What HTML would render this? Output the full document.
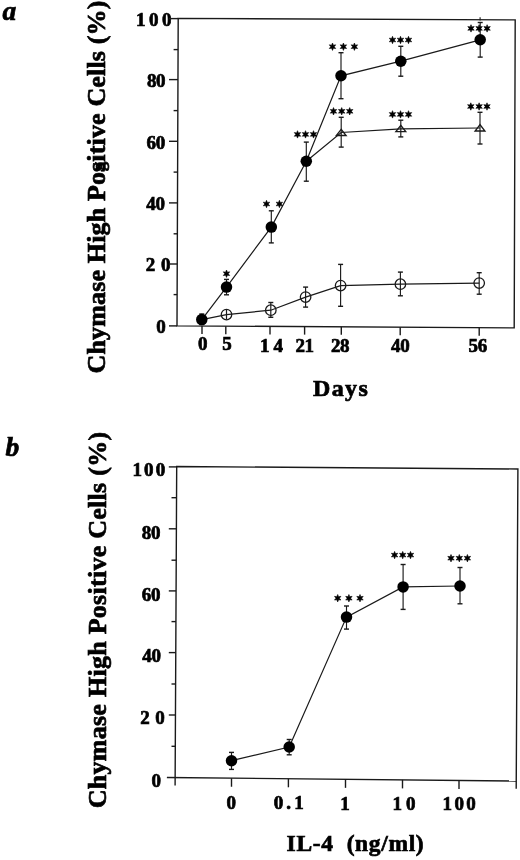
<!DOCTYPE html>
<html><head><meta charset="utf-8"><style>
html,body{margin:0;padding:0;background:#fff;overflow:hidden;width:520px;height:860px;}
svg{display:block;filter:grayscale(100%) blur(0.3px);}
text{font-family:"Liberation Serif",serif;font-weight:bold;fill:#000;stroke:#000;stroke-width:0.7px;}
</style></head><body>
<svg width="520" height="860" viewBox="0 0 520 860">
<rect width="520" height="860" fill="#fff"/>
<text x="135.90" y="25.50" font-size="19" letter-spacing="-0.58" >1 0 0</text>
<text x="146.90" y="86.50" font-size="19" letter-spacing="-0.30" >80</text>
<text x="146.60" y="149.00" font-size="19" letter-spacing="-0.30" >60</text>
<text x="146.30" y="210.00" font-size="19" letter-spacing="-0.30" >40</text>
<text x="145.70" y="271.00" font-size="19" letter-spacing="0.54" >2 0</text>
<text x="156.20" y="332.80" font-size="19" letter-spacing="0.00" >0</text>
<text x="198.10" y="350.40" font-size="19" letter-spacing="0.00" >0</text>
<text x="222.30" y="350.40" font-size="19" letter-spacing="0.00" >5</text>
<text x="259.90" y="351.50" font-size="19" letter-spacing="-0.27" >1 4</text>
<text x="295.40" y="351.50" font-size="19" letter-spacing="-0.30" >21</text>
<text x="330.90" y="351.50" font-size="19" letter-spacing="-0.30" >28</text>
<text x="391.00" y="351.50" font-size="19" letter-spacing="-0.30" >40</text>
<text x="468.50" y="351.50" font-size="19" letter-spacing="-0.30" >56</text>
<text x="312.90" y="395.80" font-size="24" letter-spacing="1.42" >Days</text>
<text x="2.40" y="20.00" font-size="27.5" letter-spacing="0.00" font-style="italic">a</text>
<text x="132.40" y="476.00" font-size="19" letter-spacing="-1.26" >1 0 0</text>
<text x="141.70" y="538.50" font-size="19" letter-spacing="-0.30" >80</text>
<text x="141.70" y="601.30" font-size="19" letter-spacing="-0.30" >60</text>
<text x="142.20" y="662.30" font-size="19" letter-spacing="-0.30" >40</text>
<text x="140.30" y="724.20" font-size="19" letter-spacing="0.36" >2 0</text>
<text x="151.40" y="787.40" font-size="19" letter-spacing="0.00" >0</text>
<text x="226.40" y="809.00" font-size="19" letter-spacing="0.00" >0</text>
<text x="273.80" y="808.60" font-size="19" letter-spacing="3.06" >0.1</text>
<text x="340.20" y="809.50" font-size="19" letter-spacing="0.00" >1</text>
<text x="392.40" y="809.50" font-size="19" letter-spacing="-0.27" >1 0</text>
<text x="442.60" y="809.50" font-size="19" letter-spacing="-1.21" >1 0 0</text>
<text x="286.60" y="851.40" font-size="23.5" letter-spacing="0.65" >IL-4&#160;&#160;(ng/ml)</text>
<text x="5.50" y="456.30" font-size="27.5" letter-spacing="0.00" font-style="italic">b</text>
<text transform="translate(105,373.5) rotate(-90)" font-size="26" letter-spacing="0.15">Chymase High Positive Cells (%)</text>
<text transform="translate(106,808.3) rotate(-90)" font-size="26" letter-spacing="0.27">Chymase High Positive Cells (%)</text>
<text transform="translate(105,373.5) rotate(-90)" font-size="26" letter-spacing="0.15"><tspan fill-opacity="0" stroke-opacity="0">Chymase High Po</tspan><tspan dx="0.6" font-size="19">g</tspan></text>
<polygon points="178.20,18.40 515.20,19.90 514.20,327.90 177.00,325.85" fill="none" stroke="#1a1a1a" stroke-width="1.4" stroke-linejoin="miter"/>
<line x1="169.00" y1="18.60" x2="178.20" y2="18.60" stroke="#1a1a1a" stroke-width="1.4" stroke-linecap="butt"/>
<line x1="169.00" y1="79.60" x2="177.96" y2="79.60" stroke="#1a1a1a" stroke-width="1.4" stroke-linecap="butt"/>
<line x1="169.00" y1="141.30" x2="177.72" y2="141.30" stroke="#1a1a1a" stroke-width="1.4" stroke-linecap="butt"/>
<line x1="169.00" y1="202.90" x2="177.48" y2="202.90" stroke="#1a1a1a" stroke-width="1.4" stroke-linecap="butt"/>
<line x1="169.00" y1="264.00" x2="177.24" y2="264.00" stroke="#1a1a1a" stroke-width="1.4" stroke-linecap="butt"/>
<line x1="169.00" y1="325.90" x2="177.00" y2="325.90" stroke="#1a1a1a" stroke-width="1.4" stroke-linecap="butt"/>
<line x1="173.60" y1="49.60" x2="178.08" y2="49.60" stroke="#1a1a1a" stroke-width="1.4" stroke-linecap="butt"/>
<line x1="173.60" y1="110.60" x2="177.84" y2="110.60" stroke="#1a1a1a" stroke-width="1.4" stroke-linecap="butt"/>
<line x1="173.60" y1="172.10" x2="177.60" y2="172.10" stroke="#1a1a1a" stroke-width="1.4" stroke-linecap="butt"/>
<line x1="173.60" y1="233.80" x2="177.36" y2="233.80" stroke="#1a1a1a" stroke-width="1.4" stroke-linecap="butt"/>
<line x1="173.60" y1="294.60" x2="177.12" y2="294.60" stroke="#1a1a1a" stroke-width="1.4" stroke-linecap="butt"/>
<line x1="202.00" y1="326.00" x2="202.00" y2="334.00" stroke="#1a1a1a" stroke-width="1.4" stroke-linecap="butt"/>
<line x1="225.80" y1="326.15" x2="225.80" y2="334.15" stroke="#1a1a1a" stroke-width="1.4" stroke-linecap="butt"/>
<line x1="270.00" y1="326.42" x2="270.00" y2="334.42" stroke="#1a1a1a" stroke-width="1.4" stroke-linecap="butt"/>
<line x1="304.60" y1="326.63" x2="304.60" y2="334.63" stroke="#1a1a1a" stroke-width="1.4" stroke-linecap="butt"/>
<line x1="341.30" y1="326.85" x2="341.30" y2="334.85" stroke="#1a1a1a" stroke-width="1.4" stroke-linecap="butt"/>
<line x1="400.20" y1="327.21" x2="400.20" y2="335.21" stroke="#1a1a1a" stroke-width="1.4" stroke-linecap="butt"/>
<line x1="479.20" y1="327.69" x2="479.20" y2="335.69" stroke="#1a1a1a" stroke-width="1.4" stroke-linecap="butt"/>
<polyline points="201.80,319.60 226.50,314.60 270.80,310.20 305.60,297.10 340.60,285.60 400.40,284.20 479.20,283.10" fill="none" stroke="#1a1a1a" stroke-width="1.2" stroke-linejoin="miter"/>
<line x1="201.80" y1="314.60" x2="201.80" y2="324.60" stroke="#1a1a1a" stroke-width="1.2" stroke-linecap="butt"/>
<line x1="226.50" y1="309.60" x2="226.50" y2="319.60" stroke="#1a1a1a" stroke-width="1.2" stroke-linecap="butt"/>
<line x1="270.80" y1="302.50" x2="270.80" y2="317.30" stroke="#1a1a1a" stroke-width="1.15" stroke-linecap="butt"/>
<line x1="268.30" y1="302.50" x2="273.30" y2="302.50" stroke="#1a1a1a" stroke-width="1.4" stroke-linecap="butt"/>
<line x1="268.30" y1="317.30" x2="273.30" y2="317.30" stroke="#1a1a1a" stroke-width="1.4" stroke-linecap="butt"/>
<line x1="305.60" y1="287.10" x2="305.60" y2="307.10" stroke="#1a1a1a" stroke-width="1.15" stroke-linecap="butt"/>
<line x1="303.10" y1="287.10" x2="308.10" y2="287.10" stroke="#1a1a1a" stroke-width="1.4" stroke-linecap="butt"/>
<line x1="303.10" y1="307.10" x2="308.10" y2="307.10" stroke="#1a1a1a" stroke-width="1.4" stroke-linecap="butt"/>
<line x1="340.60" y1="264.40" x2="340.60" y2="306.30" stroke="#1a1a1a" stroke-width="1.15" stroke-linecap="butt"/>
<line x1="338.10" y1="264.40" x2="343.10" y2="264.40" stroke="#1a1a1a" stroke-width="1.4" stroke-linecap="butt"/>
<line x1="338.10" y1="306.30" x2="343.10" y2="306.30" stroke="#1a1a1a" stroke-width="1.4" stroke-linecap="butt"/>
<line x1="400.40" y1="272.10" x2="400.40" y2="295.80" stroke="#1a1a1a" stroke-width="1.15" stroke-linecap="butt"/>
<line x1="397.90" y1="272.10" x2="402.90" y2="272.10" stroke="#1a1a1a" stroke-width="1.4" stroke-linecap="butt"/>
<line x1="397.90" y1="295.80" x2="402.90" y2="295.80" stroke="#1a1a1a" stroke-width="1.4" stroke-linecap="butt"/>
<line x1="479.20" y1="272.70" x2="479.20" y2="294.20" stroke="#1a1a1a" stroke-width="1.15" stroke-linecap="butt"/>
<line x1="476.70" y1="272.70" x2="481.70" y2="272.70" stroke="#1a1a1a" stroke-width="1.4" stroke-linecap="butt"/>
<line x1="476.70" y1="294.20" x2="481.70" y2="294.20" stroke="#1a1a1a" stroke-width="1.4" stroke-linecap="butt"/>
<circle cx="226.50" cy="314.60" r="5.25" fill="none" stroke="#1a1a1a" stroke-width="1.3"/>
<circle cx="270.80" cy="310.20" r="5.25" fill="none" stroke="#1a1a1a" stroke-width="1.3"/>
<circle cx="305.60" cy="297.10" r="5.25" fill="none" stroke="#1a1a1a" stroke-width="1.3"/>
<circle cx="340.60" cy="285.60" r="5.25" fill="none" stroke="#1a1a1a" stroke-width="1.3"/>
<circle cx="400.40" cy="284.20" r="5.25" fill="none" stroke="#1a1a1a" stroke-width="1.3"/>
<circle cx="479.20" cy="283.10" r="5.25" fill="none" stroke="#1a1a1a" stroke-width="1.3"/>
<polyline points="306.30,161.30 341.20,132.50 400.80,128.80 480.00,128.00" fill="none" stroke="#1a1a1a" stroke-width="1.2" stroke-linejoin="miter"/>
<line x1="341.20" y1="117.30" x2="341.20" y2="147.10" stroke="#1a1a1a" stroke-width="1.15" stroke-linecap="butt"/>
<line x1="338.70" y1="117.30" x2="343.70" y2="117.30" stroke="#1a1a1a" stroke-width="1.4" stroke-linecap="butt"/>
<line x1="338.70" y1="147.10" x2="343.70" y2="147.10" stroke="#1a1a1a" stroke-width="1.4" stroke-linecap="butt"/>
<polygon points="341.20,129.40 336.30,135.50 346.10,135.50" fill="none" stroke="#1a1a1a" stroke-width="1.35" stroke-linejoin="miter"/>
<line x1="400.80" y1="120.20" x2="400.80" y2="136.90" stroke="#1a1a1a" stroke-width="1.15" stroke-linecap="butt"/>
<line x1="398.30" y1="120.20" x2="403.30" y2="120.20" stroke="#1a1a1a" stroke-width="1.4" stroke-linecap="butt"/>
<line x1="398.30" y1="136.90" x2="403.30" y2="136.90" stroke="#1a1a1a" stroke-width="1.4" stroke-linecap="butt"/>
<polygon points="400.80,125.40 395.90,131.60 405.70,131.60" fill="none" stroke="#1a1a1a" stroke-width="1.35" stroke-linejoin="miter"/>
<line x1="480.00" y1="112.30" x2="480.00" y2="144.00" stroke="#1a1a1a" stroke-width="1.15" stroke-linecap="butt"/>
<line x1="477.50" y1="112.30" x2="482.50" y2="112.30" stroke="#1a1a1a" stroke-width="1.4" stroke-linecap="butt"/>
<line x1="477.50" y1="144.00" x2="482.50" y2="144.00" stroke="#1a1a1a" stroke-width="1.4" stroke-linecap="butt"/>
<polygon points="480.00,124.60 475.10,131.00 484.90,131.00" fill="none" stroke="#1a1a1a" stroke-width="1.35" stroke-linejoin="miter"/>
<polyline points="201.80,319.60 226.50,287.10 271.30,227.10 306.30,161.30 341.00,75.80 400.80,61.20 480.20,39.80" fill="none" stroke="#1a1a1a" stroke-width="1.2" stroke-linejoin="miter"/>
<line x1="201.80" y1="314.00" x2="201.80" y2="324.60" stroke="#1a1a1a" stroke-width="1.15" stroke-linecap="butt"/>
<line x1="199.30" y1="314.00" x2="204.30" y2="314.00" stroke="#1a1a1a" stroke-width="1.4" stroke-linecap="butt"/>
<line x1="199.30" y1="324.60" x2="204.30" y2="324.60" stroke="#1a1a1a" stroke-width="1.4" stroke-linecap="butt"/>
<circle cx="201.80" cy="319.60" r="5.75" fill="#000"/>
<line x1="226.50" y1="279.40" x2="226.50" y2="294.80" stroke="#1a1a1a" stroke-width="1.15" stroke-linecap="butt"/>
<line x1="224.00" y1="279.40" x2="229.00" y2="279.40" stroke="#1a1a1a" stroke-width="1.4" stroke-linecap="butt"/>
<line x1="224.00" y1="294.80" x2="229.00" y2="294.80" stroke="#1a1a1a" stroke-width="1.4" stroke-linecap="butt"/>
<circle cx="226.50" cy="287.10" r="5.75" fill="#000"/>
<line x1="271.30" y1="210.80" x2="271.30" y2="242.90" stroke="#1a1a1a" stroke-width="1.15" stroke-linecap="butt"/>
<line x1="268.80" y1="210.80" x2="273.80" y2="210.80" stroke="#1a1a1a" stroke-width="1.4" stroke-linecap="butt"/>
<line x1="268.80" y1="242.90" x2="273.80" y2="242.90" stroke="#1a1a1a" stroke-width="1.4" stroke-linecap="butt"/>
<circle cx="271.30" cy="227.10" r="5.75" fill="#000"/>
<line x1="306.30" y1="142.10" x2="306.30" y2="181.20" stroke="#1a1a1a" stroke-width="1.15" stroke-linecap="butt"/>
<line x1="303.80" y1="142.10" x2="308.80" y2="142.10" stroke="#1a1a1a" stroke-width="1.4" stroke-linecap="butt"/>
<line x1="303.80" y1="181.20" x2="308.80" y2="181.20" stroke="#1a1a1a" stroke-width="1.4" stroke-linecap="butt"/>
<circle cx="306.30" cy="161.30" r="5.75" fill="#000"/>
<line x1="341.00" y1="52.70" x2="341.00" y2="98.70" stroke="#1a1a1a" stroke-width="1.15" stroke-linecap="butt"/>
<line x1="338.50" y1="52.70" x2="343.50" y2="52.70" stroke="#1a1a1a" stroke-width="1.4" stroke-linecap="butt"/>
<line x1="338.50" y1="98.70" x2="343.50" y2="98.70" stroke="#1a1a1a" stroke-width="1.4" stroke-linecap="butt"/>
<circle cx="341.00" cy="75.80" r="5.75" fill="#000"/>
<line x1="400.80" y1="46.30" x2="400.80" y2="76.20" stroke="#1a1a1a" stroke-width="1.15" stroke-linecap="butt"/>
<line x1="398.30" y1="46.30" x2="403.30" y2="46.30" stroke="#1a1a1a" stroke-width="1.4" stroke-linecap="butt"/>
<line x1="398.30" y1="76.20" x2="403.30" y2="76.20" stroke="#1a1a1a" stroke-width="1.4" stroke-linecap="butt"/>
<circle cx="400.80" cy="61.20" r="5.75" fill="#000"/>
<line x1="480.20" y1="22.50" x2="480.20" y2="57.10" stroke="#1a1a1a" stroke-width="1.15" stroke-linecap="butt"/>
<line x1="477.70" y1="22.50" x2="482.70" y2="22.50" stroke="#1a1a1a" stroke-width="1.4" stroke-linecap="butt"/>
<line x1="477.70" y1="57.10" x2="482.70" y2="57.10" stroke="#1a1a1a" stroke-width="1.4" stroke-linecap="butt"/>
<circle cx="480.20" cy="39.80" r="5.75" fill="#000"/>
<line x1="480.10" y1="17.20" x2="480.10" y2="20.50" stroke="#1a1a1a" stroke-width="1.1" stroke-linecap="butt"/>
<polygon points="226.50,270.00 227.38,272.18 229.70,271.85 228.25,273.70 229.70,275.55 227.38,275.22 226.50,277.40 225.62,275.22 223.30,275.55 224.75,273.70 223.30,271.85 225.62,272.18" fill="#000" stroke="#000" stroke-width="0.6" stroke-linejoin="round"/>
<polygon points="266.50,200.30 267.38,202.48 269.70,202.15 268.25,204.00 269.70,205.85 267.38,205.52 266.50,207.70 265.62,205.52 263.30,205.85 264.75,204.00 263.30,202.15 265.62,202.48" fill="#000" stroke="#000" stroke-width="0.6" stroke-linejoin="round"/>
<polygon points="279.40,200.30 280.27,202.48 282.60,202.15 281.15,204.00 282.60,205.85 280.27,205.52 279.40,207.70 278.52,205.52 276.20,205.85 277.65,204.00 276.20,202.15 278.52,202.48" fill="#000" stroke="#000" stroke-width="0.6" stroke-linejoin="round"/>
<polygon points="297.50,130.70 298.38,132.88 300.70,132.55 299.25,134.40 300.70,136.25 298.38,135.92 297.50,138.10 296.62,135.92 294.30,136.25 295.75,134.40 294.30,132.55 296.62,132.88" fill="#000" stroke="#000" stroke-width="0.6" stroke-linejoin="round"/>
<polygon points="305.50,130.70 306.38,132.88 308.70,132.55 307.25,134.40 308.70,136.25 306.38,135.92 305.50,138.10 304.62,135.92 302.30,136.25 303.75,134.40 302.30,132.55 304.62,132.88" fill="#000" stroke="#000" stroke-width="0.6" stroke-linejoin="round"/>
<polygon points="313.50,130.70 314.38,132.88 316.70,132.55 315.25,134.40 316.70,136.25 314.38,135.92 313.50,138.10 312.62,135.92 310.30,136.25 311.75,134.40 310.30,132.55 312.62,132.88" fill="#000" stroke="#000" stroke-width="0.6" stroke-linejoin="round"/>
<polygon points="332.50,43.00 333.38,45.18 335.70,44.85 334.25,46.70 335.70,48.55 333.38,48.22 332.50,50.40 331.62,48.22 329.30,48.55 330.75,46.70 329.30,44.85 331.62,45.18" fill="#000" stroke="#000" stroke-width="0.6" stroke-linejoin="round"/>
<polygon points="343.40,43.00 344.27,45.18 346.60,44.85 345.15,46.70 346.60,48.55 344.27,48.22 343.40,50.40 342.52,48.22 340.20,48.55 341.65,46.70 340.20,44.85 342.52,45.18" fill="#000" stroke="#000" stroke-width="0.6" stroke-linejoin="round"/>
<polygon points="354.40,43.00 355.27,45.18 357.60,44.85 356.15,46.70 357.60,48.55 355.27,48.22 354.40,50.40 353.52,48.22 351.20,48.55 352.65,46.70 351.20,44.85 353.52,45.18" fill="#000" stroke="#000" stroke-width="0.6" stroke-linejoin="round"/>
<polygon points="392.50,36.30 393.38,38.48 395.70,38.15 394.25,40.00 395.70,41.85 393.38,41.52 392.50,43.70 391.62,41.52 389.30,41.85 390.75,40.00 389.30,38.15 391.62,38.48" fill="#000" stroke="#000" stroke-width="0.6" stroke-linejoin="round"/>
<polygon points="400.50,36.30 401.38,38.48 403.70,38.15 402.25,40.00 403.70,41.85 401.38,41.52 400.50,43.70 399.62,41.52 397.30,41.85 398.75,40.00 397.30,38.15 399.62,38.48" fill="#000" stroke="#000" stroke-width="0.6" stroke-linejoin="round"/>
<polygon points="408.50,36.30 409.38,38.48 411.70,38.15 410.25,40.00 411.70,41.85 409.38,41.52 408.50,43.70 407.62,41.52 405.30,41.85 406.75,40.00 405.30,38.15 407.62,38.48" fill="#000" stroke="#000" stroke-width="0.6" stroke-linejoin="round"/>
<polygon points="471.00,24.70 471.88,26.88 474.20,26.55 472.75,28.40 474.20,30.25 471.88,29.92 471.00,32.10 470.12,29.92 467.80,30.25 469.25,28.40 467.80,26.55 470.12,26.88" fill="#000" stroke="#000" stroke-width="0.6" stroke-linejoin="round"/>
<polygon points="479.10,24.70 479.98,26.88 482.30,26.55 480.85,28.40 482.30,30.25 479.98,29.92 479.10,32.10 478.23,29.92 475.90,30.25 477.35,28.40 475.90,26.55 478.23,26.88" fill="#000" stroke="#000" stroke-width="0.6" stroke-linejoin="round"/>
<polygon points="487.10,24.70 487.98,26.88 490.30,26.55 488.85,28.40 490.30,30.25 487.98,29.92 487.10,32.10 486.23,29.92 483.90,30.25 485.35,28.40 483.90,26.55 486.23,26.88" fill="#000" stroke="#000" stroke-width="0.6" stroke-linejoin="round"/>
<polygon points="333.50,107.60 334.38,109.78 336.70,109.45 335.25,111.30 336.70,113.15 334.38,112.82 333.50,115.00 332.62,112.82 330.30,113.15 331.75,111.30 330.30,109.45 332.62,109.78" fill="#000" stroke="#000" stroke-width="0.6" stroke-linejoin="round"/>
<polygon points="341.70,107.60 342.57,109.78 344.90,109.45 343.45,111.30 344.90,113.15 342.57,112.82 341.70,115.00 340.82,112.82 338.50,113.15 339.95,111.30 338.50,109.45 340.82,109.78" fill="#000" stroke="#000" stroke-width="0.6" stroke-linejoin="round"/>
<polygon points="349.70,107.60 350.57,109.78 352.90,109.45 351.45,111.30 352.90,113.15 350.57,112.82 349.70,115.00 348.82,112.82 346.50,113.15 347.95,111.30 346.50,109.45 348.82,109.78" fill="#000" stroke="#000" stroke-width="0.6" stroke-linejoin="round"/>
<polygon points="392.50,110.70 393.38,112.88 395.70,112.55 394.25,114.40 395.70,116.25 393.38,115.92 392.50,118.10 391.62,115.92 389.30,116.25 390.75,114.40 389.30,112.55 391.62,112.88" fill="#000" stroke="#000" stroke-width="0.6" stroke-linejoin="round"/>
<polygon points="400.50,110.70 401.38,112.88 403.70,112.55 402.25,114.40 403.70,116.25 401.38,115.92 400.50,118.10 399.62,115.92 397.30,116.25 398.75,114.40 397.30,112.55 399.62,112.88" fill="#000" stroke="#000" stroke-width="0.6" stroke-linejoin="round"/>
<polygon points="408.50,110.70 409.38,112.88 411.70,112.55 410.25,114.40 411.70,116.25 409.38,115.92 408.50,118.10 407.62,115.92 405.30,116.25 406.75,114.40 405.30,112.55 407.62,112.88" fill="#000" stroke="#000" stroke-width="0.6" stroke-linejoin="round"/>
<polygon points="470.80,102.80 471.68,104.98 474.00,104.65 472.55,106.50 474.00,108.35 471.68,108.02 470.80,110.20 469.93,108.02 467.60,108.35 469.05,106.50 467.60,104.65 469.93,104.98" fill="#000" stroke="#000" stroke-width="0.6" stroke-linejoin="round"/>
<polygon points="479.10,102.80 479.98,104.98 482.30,104.65 480.85,106.50 482.30,108.35 479.98,108.02 479.10,110.20 478.23,108.02 475.90,108.35 477.35,106.50 475.90,104.65 478.23,104.98" fill="#000" stroke="#000" stroke-width="0.6" stroke-linejoin="round"/>
<polygon points="487.00,102.80 487.88,104.98 490.20,104.65 488.75,106.50 490.20,108.35 487.88,108.02 487.00,110.20 486.12,108.02 483.80,108.35 485.25,106.50 483.80,104.65 486.12,104.98" fill="#000" stroke="#000" stroke-width="0.6" stroke-linejoin="round"/>
<polyline points="175.10,785.60 176.70,466.50 517.90,469.00 516.20,788.80" fill="none" stroke="#1a1a1a" stroke-width="1.4" stroke-linejoin="miter"/>
<polyline points="166.90,777.50 516.20,781.00" fill="none" stroke="#1a1a1a" stroke-width="1.4" stroke-linejoin="miter"/>
<line x1="168.80" y1="466.90" x2="176.70" y2="466.90" stroke="#1a1a1a" stroke-width="1.4" stroke-linecap="butt"/>
<line x1="168.80" y1="528.80" x2="176.38" y2="528.80" stroke="#1a1a1a" stroke-width="1.4" stroke-linecap="butt"/>
<line x1="168.80" y1="590.90" x2="176.06" y2="590.90" stroke="#1a1a1a" stroke-width="1.4" stroke-linecap="butt"/>
<line x1="168.80" y1="652.60" x2="175.74" y2="652.60" stroke="#1a1a1a" stroke-width="1.4" stroke-linecap="butt"/>
<line x1="168.80" y1="715.00" x2="175.42" y2="715.00" stroke="#1a1a1a" stroke-width="1.4" stroke-linecap="butt"/>
<line x1="171.50" y1="497.70" x2="176.54" y2="497.70" stroke="#1a1a1a" stroke-width="1.4" stroke-linecap="butt"/>
<line x1="171.50" y1="560.20" x2="176.22" y2="560.20" stroke="#1a1a1a" stroke-width="1.4" stroke-linecap="butt"/>
<line x1="171.50" y1="621.60" x2="175.90" y2="621.60" stroke="#1a1a1a" stroke-width="1.4" stroke-linecap="butt"/>
<line x1="171.50" y1="684.00" x2="175.58" y2="684.00" stroke="#1a1a1a" stroke-width="1.4" stroke-linecap="butt"/>
<line x1="171.50" y1="746.30" x2="175.26" y2="746.30" stroke="#1a1a1a" stroke-width="1.4" stroke-linecap="butt"/>
<line x1="231.50" y1="778.25" x2="231.50" y2="786.75" stroke="#1a1a1a" stroke-width="1.4" stroke-linecap="butt"/>
<line x1="288.40" y1="778.80" x2="288.40" y2="787.30" stroke="#1a1a1a" stroke-width="1.4" stroke-linecap="butt"/>
<line x1="345.50" y1="779.35" x2="345.50" y2="787.85" stroke="#1a1a1a" stroke-width="1.4" stroke-linecap="butt"/>
<line x1="402.50" y1="779.90" x2="402.50" y2="788.40" stroke="#1a1a1a" stroke-width="1.4" stroke-linecap="butt"/>
<line x1="459.00" y1="780.45" x2="459.00" y2="788.95" stroke="#1a1a1a" stroke-width="1.4" stroke-linecap="butt"/>
<polyline points="231.50,760.70 289.20,747.00 346.50,617.10 403.10,586.90 460.00,586.00" fill="none" stroke="#1a1a1a" stroke-width="1.2" stroke-linejoin="miter"/>
<line x1="231.50" y1="752.40" x2="231.50" y2="769.40" stroke="#1a1a1a" stroke-width="1.15" stroke-linecap="butt"/>
<line x1="229.00" y1="752.40" x2="234.00" y2="752.40" stroke="#1a1a1a" stroke-width="1.4" stroke-linecap="butt"/>
<line x1="229.00" y1="769.40" x2="234.00" y2="769.40" stroke="#1a1a1a" stroke-width="1.4" stroke-linecap="butt"/>
<circle cx="231.50" cy="760.70" r="5.75" fill="#000"/>
<line x1="289.20" y1="739.50" x2="289.20" y2="754.80" stroke="#1a1a1a" stroke-width="1.15" stroke-linecap="butt"/>
<line x1="286.70" y1="739.50" x2="291.70" y2="739.50" stroke="#1a1a1a" stroke-width="1.4" stroke-linecap="butt"/>
<line x1="286.70" y1="754.80" x2="291.70" y2="754.80" stroke="#1a1a1a" stroke-width="1.4" stroke-linecap="butt"/>
<circle cx="289.20" cy="747.00" r="5.75" fill="#000"/>
<line x1="346.50" y1="606.00" x2="346.50" y2="629.10" stroke="#1a1a1a" stroke-width="1.15" stroke-linecap="butt"/>
<line x1="344.00" y1="606.00" x2="349.00" y2="606.00" stroke="#1a1a1a" stroke-width="1.4" stroke-linecap="butt"/>
<line x1="344.00" y1="629.10" x2="349.00" y2="629.10" stroke="#1a1a1a" stroke-width="1.4" stroke-linecap="butt"/>
<circle cx="346.50" cy="617.10" r="5.75" fill="#000"/>
<line x1="403.10" y1="564.50" x2="403.10" y2="609.40" stroke="#1a1a1a" stroke-width="1.15" stroke-linecap="butt"/>
<line x1="400.60" y1="564.50" x2="405.60" y2="564.50" stroke="#1a1a1a" stroke-width="1.4" stroke-linecap="butt"/>
<line x1="400.60" y1="609.40" x2="405.60" y2="609.40" stroke="#1a1a1a" stroke-width="1.4" stroke-linecap="butt"/>
<circle cx="403.10" cy="586.90" r="5.75" fill="#000"/>
<line x1="460.00" y1="567.50" x2="460.00" y2="603.80" stroke="#1a1a1a" stroke-width="1.15" stroke-linecap="butt"/>
<line x1="457.50" y1="567.50" x2="462.50" y2="567.50" stroke="#1a1a1a" stroke-width="1.4" stroke-linecap="butt"/>
<line x1="457.50" y1="603.80" x2="462.50" y2="603.80" stroke="#1a1a1a" stroke-width="1.4" stroke-linecap="butt"/>
<circle cx="460.00" cy="586.00" r="5.75" fill="#000"/>
<polygon points="337.70,594.50 338.57,596.68 340.90,596.35 339.45,598.20 340.90,600.05 338.57,599.72 337.70,601.90 336.82,599.72 334.50,600.05 335.95,598.20 334.50,596.35 336.82,596.68" fill="#000" stroke="#000" stroke-width="0.6" stroke-linejoin="round"/>
<polygon points="348.90,594.50 349.77,596.68 352.10,596.35 350.65,598.20 352.10,600.05 349.77,599.72 348.90,601.90 348.02,599.72 345.70,600.05 347.15,598.20 345.70,596.35 348.02,596.68" fill="#000" stroke="#000" stroke-width="0.6" stroke-linejoin="round"/>
<polygon points="360.00,594.50 360.88,596.68 363.20,596.35 361.75,598.20 363.20,600.05 360.88,599.72 360.00,601.90 359.12,599.72 356.80,600.05 358.25,598.20 356.80,596.35 359.12,596.68" fill="#000" stroke="#000" stroke-width="0.6" stroke-linejoin="round"/>
<polygon points="394.60,551.40 395.48,553.58 397.80,553.25 396.35,555.10 397.80,556.95 395.48,556.62 394.60,558.80 393.73,556.62 391.40,556.95 392.85,555.10 391.40,553.25 393.73,553.58" fill="#000" stroke="#000" stroke-width="0.6" stroke-linejoin="round"/>
<polygon points="402.70,551.40 403.57,553.58 405.90,553.25 404.45,555.10 405.90,556.95 403.57,556.62 402.70,558.80 401.82,556.62 399.50,556.95 400.95,555.10 399.50,553.25 401.82,553.58" fill="#000" stroke="#000" stroke-width="0.6" stroke-linejoin="round"/>
<polygon points="410.50,551.40 411.38,553.58 413.70,553.25 412.25,555.10 413.70,556.95 411.38,556.62 410.50,558.80 409.62,556.62 407.30,556.95 408.75,555.10 407.30,553.25 409.62,553.58" fill="#000" stroke="#000" stroke-width="0.6" stroke-linejoin="round"/>
<polygon points="451.00,554.50 451.88,556.68 454.20,556.35 452.75,558.20 454.20,560.05 451.88,559.72 451.00,561.90 450.12,559.72 447.80,560.05 449.25,558.20 447.80,556.35 450.12,556.68" fill="#000" stroke="#000" stroke-width="0.6" stroke-linejoin="round"/>
<polygon points="459.30,554.50 460.18,556.68 462.50,556.35 461.05,558.20 462.50,560.05 460.18,559.72 459.30,561.90 458.43,559.72 456.10,560.05 457.55,558.20 456.10,556.35 458.43,556.68" fill="#000" stroke="#000" stroke-width="0.6" stroke-linejoin="round"/>
<polygon points="467.40,554.50 468.27,556.68 470.60,556.35 469.15,558.20 470.60,560.05 468.27,559.72 467.40,561.90 466.52,559.72 464.20,560.05 465.65,558.20 464.20,556.35 466.52,556.68" fill="#000" stroke="#000" stroke-width="0.6" stroke-linejoin="round"/>
</svg></body></html>
